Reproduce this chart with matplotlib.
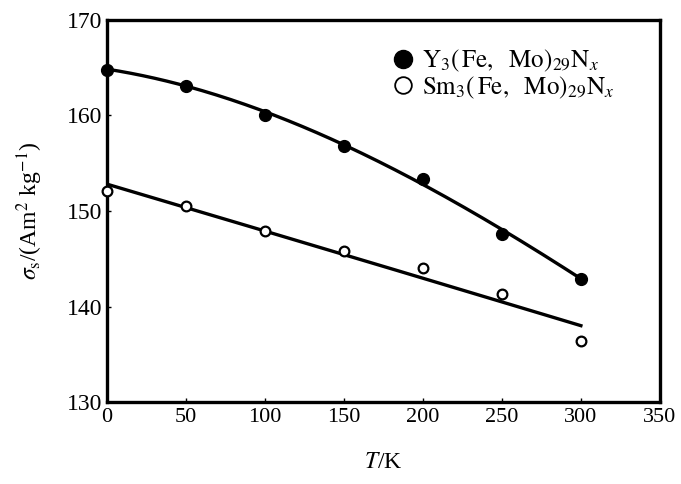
import numpy as np
import matplotlib
matplotlib.use("Agg")
import matplotlib.pyplot as plt
from matplotlib.lines import Line2D

plt.rcParams['font.family'] = ['Liberation Serif', 'DejaVu Serif']
plt.rcParams['mathtext.fontset'] = 'stix'

# measured points
T = [0, 50, 100, 150, 200, 250, 300]
sigma_Y = [164.8, 163.1, 160.0, 156.8, 153.4, 147.6, 142.9]
sigma_Sm = [152.1, 150.5, 147.9, 145.8, 144.0, 141.3, 136.4]

# fitted curves as drawn in the figure
fit_T = [0, 50, 100, 150, 200, 250, 300]
fit_Y = [164.8, 163.2, 160.3, 156.9, 152.8, 148.1, 142.9]
fit_Sm = [152.8, 150.4, 147.9, 145.4, 143.0, 140.5, 138.0]

lbl_Y = r'$\mathrm{Y_3(\,Fe,\ \ Mo)_{29}N}_{x}$'
lbl_Sm = r'$\mathrm{Sm_3(\,Fe,\ \ Mo)_{29}N}_{x}$'

fig = plt.figure(figsize=(6.81, 4.84), dpi=100)
ax = fig.add_axes([0.157, 0.169, 0.812, 0.79])

tt = np.linspace(0, 300, 200)
cY = np.polyfit(fit_T, fit_Y, 3)
cS = np.polyfit(fit_T, fit_Sm, 2)
ax.plot(tt, np.polyval(cY, tt), color='black', lw=2.4, zorder=2)
ax.plot(tt, np.polyval(cS, tt), color='black', lw=2.4, zorder=2)

ax.plot(T, sigma_Y, 'o', color='black', ms=8.5, zorder=3, clip_on=False)
ax.plot(T, sigma_Sm, 'o', mfc='white', mec='black', mew=1.6, ms=7,
        zorder=3, clip_on=False)

ax.set_xlim(0, 350)
ax.set_ylim(130, 170)
ax.set_xticks(np.arange(0, 351, 50))
ax.set_yticks(np.arange(130, 171, 10))
ax.tick_params(direction='in', length=3, width=1, labelsize=17)
ax.tick_params(axis='x', pad=4, labelsize=16)
ax.tick_params(axis='y', pad=3)
for s in ax.spines.values():
    s.set_linewidth(2.4)

ax.set_xlabel(r'$T$/K', fontsize=17, labelpad=18)
ax.set_ylabel(r'$\sigma_\mathrm{s}$/(Am$^2$ kg$^{-1}$)', fontsize=17, labelpad=16)

handles = [
    Line2D([], [], ls='none', marker='o', color='black', ms=13),
    Line2D([], [], ls='none', marker='o', mfc='white', mec='black', mew=1.3, ms=12),
]
ax.legend(handles, [lbl_Y, lbl_Sm], loc='upper left', bbox_to_anchor=(0.47, 0.985),
          frameon=False, fontsize=18, handletextpad=0.2, labelspacing=0.0,
          handlelength=1.1)

fig.savefig('out.png', dpi=100)
